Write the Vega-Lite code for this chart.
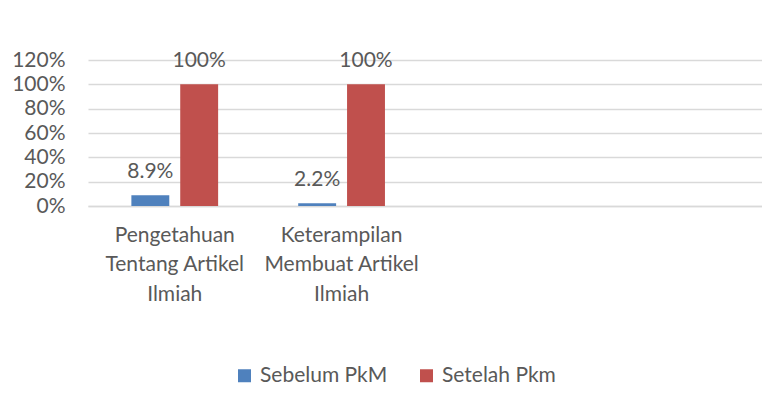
{
  "$schema": "https://vega.github.io/schema/vega-lite/v6.json",
  "width": 674,
  "height": 146,
  "autosize": {"type": "none"},
  "padding": {"left": 88, "top": 60, "right": 0, "bottom": 199},
  "background": "white",
  "config": {
    "view": {"stroke": null},
    "font": "Lato",
    "axis": {"labelColor": "#595959", "labelFont": "Lato", "titleColor": "#595959"},
    "legend": {"labelColor": "#595959", "labelFont": "Lato"}
  },
  "data": {
    "values": [
      {"category": "Pengetahuan|Tentang Artikel|Ilmiah", "series": "Sebelum PkM", "value": 0.089, "label": "8.9%"},
      {"category": "Pengetahuan|Tentang Artikel|Ilmiah", "series": "Setelah Pkm", "value": 1.0, "label": "100%"},
      {"category": "Keterampilan|Membuat Artikel|Ilmiah", "series": "Sebelum PkM", "value": 0.022, "label": "2.2%"},
      {"category": "Keterampilan|Membuat Artikel|Ilmiah", "series": "Setelah Pkm", "value": 1.0, "label": "100%"}
    ]
  },
  "encoding": {
    "x": {
      "field": "category",
      "type": "nominal",
      "sort": null,
      "scale": {
        "domain": ["Pengetahuan|Tentang Artikel|Ilmiah", "Keterampilan|Membuat Artikel|Ilmiah", " ", "  "],
        "paddingInner": 0.48,
        "paddingOuter": 0.26
      },
      "axis": {
        "title": null,
        "labelAngle": 0,
        "labelExpr": "split(datum.value, '|')",
        "labelFontSize": 21,
        "labelLineHeight": 29.5,
        "labelPadding": 18,
        "labelBaseline": "top",
        "ticks": false,
        "domain": true,
        "domainColor": "#D9D9D9",
        "domainWidth": 1.5,
        "grid": false
      }
    },
    "xOffset": {
      "field": "series",
      "type": "nominal",
      "scale": {"domain": ["Sebelum PkM", "Setelah Pkm"], "paddingInner": 0.224, "paddingOuter": 0}
    },
    "y": {
      "field": "value",
      "type": "quantitative",
      "scale": {"domain": [0, 1.2], "nice": false},
      "axis": {
        "title": null,
        "values": [0, 0.2, 0.4, 0.6, 0.8, 1.0, 1.2],
        "format": ".0%",
        "labelFontSize": 21,
        "labelPadding": 23,
        "ticks": false,
        "domain": false,
        "grid": true,
        "gridColor": "#D9D9D9",
        "gridWidth": 1.5
      }
    }
  },
  "layer": [
    {
      "mark": {"type": "bar"},
      "encoding": {
        "color": {
          "field": "series",
          "type": "nominal",
          "scale": {"domain": ["Sebelum PkM", "Setelah Pkm"], "range": ["#4F81BD", "#C0504D"]},
          "legend": {
            "title": null,
            "orient": "none",
            "direction": "horizontal",
            "legendX": 146,
            "legendY": 305,
            "symbolType": "square",
            "symbolSize": 169,
            "symbolStrokeWidth": 0,
            "labelFontSize": 21,
            "labelOffset": 5,
            "columnPadding": 28
          }
        }
      }
    },
    {
      "mark": {"type": "text", "baseline": "alphabetic", "dy": -17, "fontSize": 21, "color": "#595959", "font": "Lato"},
      "encoding": {"text": {"field": "label"}}
    }
  ]
}
